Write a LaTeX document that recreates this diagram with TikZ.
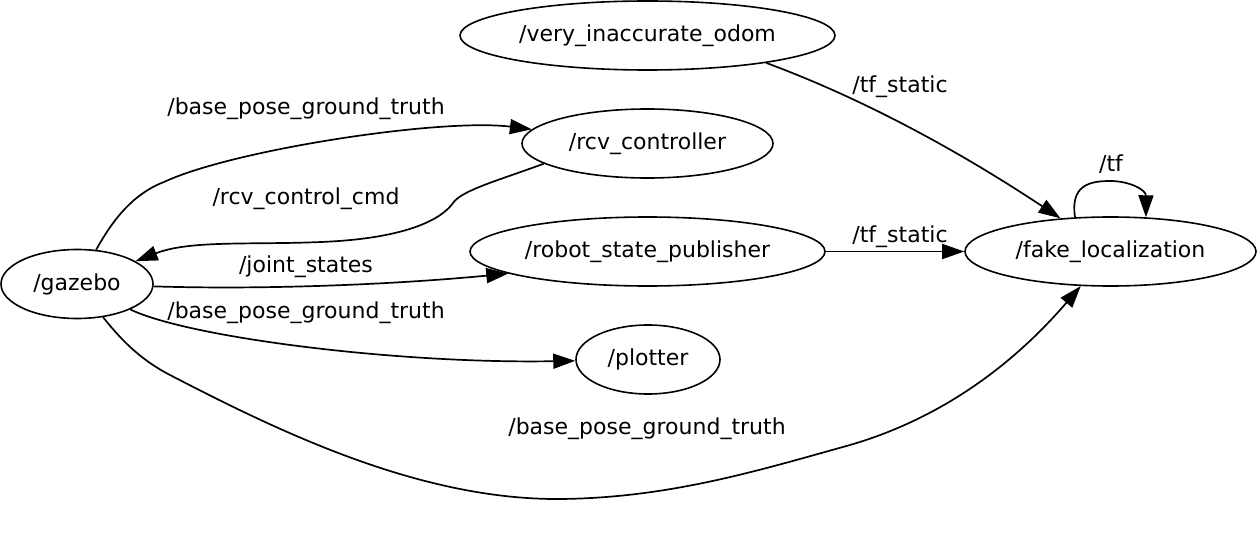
\documentclass[tikz,border=0pt]{standalone}
\usepackage{fontspec}
\setmainfont{DejaVu Sans}
\usetikzlibrary{shapes.geometric,arrows.meta}
\tikzset{
  rosnode/.style={draw, ellipse, line width=0.8pt, inner sep=0pt, minimum height=34.5pt},
  topic/.style={inner sep=0pt},
  link/.style={-{Triangle[length=11pt,width=7.5pt]}, line width=0.85pt},
}
\begin{document}
\begin{tikzpicture}[x=0.5pt,y=-0.5pt,font=\fontsize{11}{13}\selectfont]
\useasboundingbox (0,0) rectangle (1258,535);

\node[rosnode, minimum width=76pt]    (gazebo)  at (77,284)     {/gazebo};
\node[rosnode, minimum width=187.5pt] (odom)    at (647.5,35.5) {/very\_inaccurate\_odom};
\node[rosnode, minimum width=125.5pt] (rcv)     at (647.5,143.5) {/rcv\_controller};
\node[rosnode, minimum width=177.5pt] (rsp)     at (647.5,251.5) {/robot\_state\_publisher};
\node[rosnode, minimum width=72pt]    (plotter) at (648,359.5)  {/plotter};
\node[rosnode, minimum width=145.5pt] (fake)    at (1110.5,251.5) {/fake\_localization};

\node[topic] (t-gz-rcv)  at (306,109) {/base\_pose\_ground\_truth};
\node[topic] (t-cmd)     at (306,199) {/rcv\_control\_cmd};
\node[topic] (t-joint)   at (306,267) {/joint\_states};
\node[topic] (t-gz-plot) at (306,313) {/base\_pose\_ground\_truth};
\node[topic] (t-gz-fake) at (647,429) {/base\_pose\_ground\_truth};
\node[topic] (t-odom)    at (900,87)  {/tf\_static};
\node[topic] (t-rsp)     at (900,237) {/tf\_static};
\node[topic] (t-tf)      at (1111,164) {/tf};

\draw[link] (gazebo) .. controls (110,225) and (130,195) .. (164,182)
  .. controls (232,150) and (440,118) .. (rcv);
\draw[link] (rcv.191) .. controls (500,180) and (462,190) .. (453,203)
  .. controls (446,213) and (420,238) .. (321,242)
  .. controls (250,245) and (190,240) .. (gazebo);
\draw[link] (gazebo) .. controls (270,290) and (400,284) .. (rsp.189);
\draw[link] (gazebo) .. controls (190,338) and (400,364) .. (plotter);
\draw[link] (gazebo) .. controls (125,345) and (145,362) .. (170,375)
  .. controls (280,432) and (420,500) .. (560,499)
  .. controls (670,498) and (760,470) .. (850,445)
  .. controls (960,413) and (1030,345) .. (fake);
\draw[link] (odom.-13) .. controls (880,105) and (980,165) .. (fake);
\draw[link] (rsp.east) -- (fake.west);
\draw[link] (fake.136) .. controls (1070,185) and (1090,181) .. (1110,181)
  .. controls (1130,181) and (1146,190) .. (fake.44);
\end{tikzpicture}
\end{document}
